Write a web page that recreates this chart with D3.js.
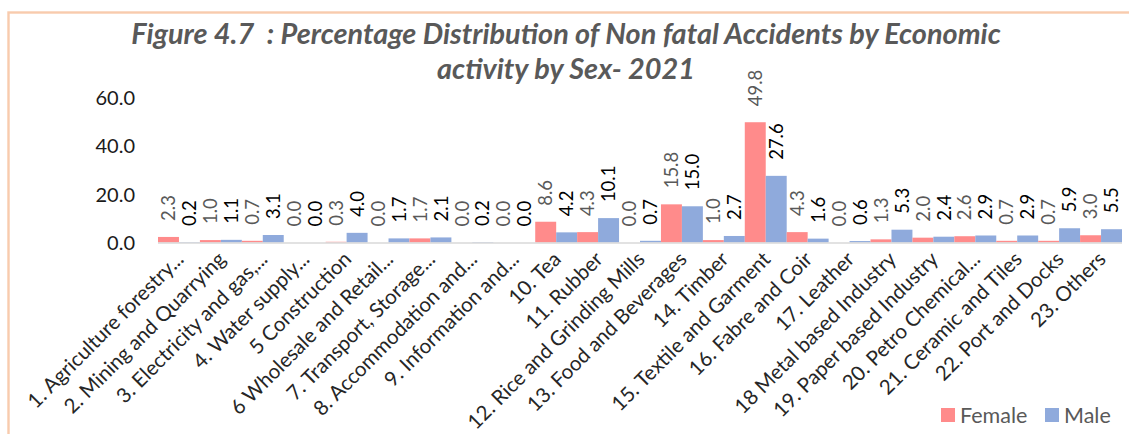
<!DOCTYPE html>
<html>
<head>
<meta charset="utf-8">
<script src="https://cdn.jsdelivr.net/npm/d3@7"></script>
<style>
  html, body { margin: 0; padding: 0; background: #fff; }
  svg { display: block; font-family: Lato, "Open Sans", sans-serif; }
  .title text { white-space: pre; }
</style>
</head>
<body>
<svg id="chart" width="1129" height="434"></svg>
<script>
// Economic activity categories (x axis)
const categories = [
  "1. Agriculture forestry...",
  "2. Mining and Quarrying",
  "3. Electricity and gas,...",
  "4. Water supply...",
  "5 Construction",
  "6 Wholesale and Retail...",
  "7. Transport, Storage...",
  "8. Accommodation and...",
  "9. Information and...",
  "10. Tea",
  "11. Rubber",
  "12. Rice and Grinding Mills",
  "13. Food and Beverages",
  "14. Timber",
  "15. Textile and Garment",
  "16. Fabre and Coir",
  "17. Leather",
  "18 Metal based Industry",
  "19. Paper based Industry",
  "20. Petro Chemical...",
  "21. Ceramic and Tiles",
  "22. Port and Docks",
  "23. Others"
];

// Percentage of non fatal accidents by sex
const female = [2.3, 1.0, 0.7, 0.0, 0.3, 0.0, 1.7, 0.0, 0.0, 8.6, 4.3, 0.0, 15.8, 1.0, 49.8, 4.3, 0.0, 1.3, 2.0, 2.6, 0.7, 0.7, 3.0];
const male   = [0.2, 1.1, 3.1, 0.0, 4.0, 1.7, 2.1, 0.2, 0.0, 4.2, 10.1, 0.7, 15.0, 2.7, 27.6, 1.6, 0.6, 5.3, 2.4, 2.9, 2.9, 5.9, 5.5];

const seriesNames = ["Female", "Male"];
const yTicks = [0, 20, 40, 60];

const titleLines = [
  "Figure 4.7  : Percentage Distribution of Non fatal Accidents by Economic",
  "activity by Sex- 2021"
];

const colors = { Female: "#ff8b8b", Male: "#8faadc" };
const labelColors = { Female: "#595959", Male: "#000000" };

const svg = d3.select("#chart");

// chart frame (runs past the right and bottom edges)
svg.append("rect")
  .attr("x", 8.5).attr("y", 12.5)
  .attr("width", 1160).attr("height", 460)
  .attr("fill", "none")
  .attr("stroke", "#f8cbad")
  .attr("stroke-width", 2.4);

// plot geometry
const plot = { left: 158, right: 1122, zeroY: 242.5, topY: 97.6 };

const x = d3.scaleBand().domain(categories).range([plot.left, plot.right]).padding(0);
const xSub = d3.scaleBand().domain(seriesNames).range([0, x.bandwidth()]).padding(0);
const y = d3.scaleLinear().domain([0, 60]).range([plot.zeroY, plot.topY]);

// title
const titleCx = 566;
const title = svg.append("g")
  .attr("class", "title")
  .attr("font-weight", "bold")
  .attr("font-style", "italic")
  .attr("fill", "#595959")
  .attr("text-anchor", "middle");
const t1 = title.append("text").attr("x", titleCx).attr("y", 43.5).attr("font-size", 24).text(titleLines[0]);
// size the title so the first line spans its intended width
const w1 = t1.node().getComputedTextLength();
const titleSize = 24 * 870 / w1;
t1.attr("font-size", titleSize);
title.append("text").attr("x", titleCx).attr("y", 78.5).attr("font-size", titleSize).text(titleLines[1]);

// y axis labels (no line, no ticks)
const yAxis = d3.axisLeft(y).tickValues(yTicks).tickFormat(d3.format(".1f")).tickSize(0).tickPadding(0);
const yg = svg.append("g").attr("transform", "translate(135,0)").call(yAxis);
yg.select(".domain").remove();
yg.selectAll("text")
  .attr("font-family", "Lato, sans-serif")
  .attr("font-size", 20)
  .attr("fill", "#1a1a1a")
  .attr("dy", "0.35em");

// bars
const rows = categories.map((c, i) => ({ cat: c, Female: female[i], Male: male[i] }));
const groups = svg.append("g").selectAll("g")
  .data(rows).join("g")
  .attr("transform", d => `translate(${x(d.cat)},0)`);

groups.selectAll("rect")
  .data(d => seriesNames.map(s => ({ s, v: d[s] })))
  .join("rect")
  .attr("x", d => xSub(d.s))
  .attr("width", xSub.bandwidth())
  .attr("y", d => y(d.v))
  .attr("height", d => plot.zeroY - y(d.v))
  .attr("fill", d => colors[d.s]);

// baseline
svg.append("line")
  .attr("x1", plot.left).attr("x2", plot.right)
  .attr("y1", plot.zeroY + 0.5).attr("y2", plot.zeroY + 0.5)
  .attr("stroke", "#d9d9d9").attr("stroke-width", 1.5);

// value labels, rotated, above each bar
groups.selectAll("text.val")
  .data(d => seriesNames.map(s => ({ s, v: d[s] })))
  .join("text")
  .attr("class", "val")
  .attr("transform", d => `translate(${xSub(d.s) + xSub.bandwidth() / 2},${y(d.v) - 16}) rotate(-90)`)
  .attr("dy", "0.36em")
  .attr("font-size", 18.5)
  .attr("fill", d => labelColors[d.s])
  .text(d => d3.format(".1f")(d.v));

// category labels at -45 degrees
const xAxis = d3.axisBottom(x).tickSize(0).tickPadding(0);
const xg = svg.append("g").attr("transform", `translate(0,${plot.zeroY})`).call(xAxis);
xg.select(".domain").remove();
xg.selectAll("text")
  .attr("font-family", "Lato, sans-serif")
  .attr("font-size", 20.5)
  .attr("fill", "#262626")
  .attr("text-anchor", "end")
  .attr("dy", null)
  .attr("y", 0)
  .attr("transform", "translate(6,18) rotate(-45)");

// legend
const legendItems = [
  { s: "Female", x: 941 },
  { s: "Male", x: 1045 }
];
const lg = svg.append("g");
lg.selectAll("rect").data(legendItems).join("rect")
  .attr("x", d => d.x).attr("y", 408)
  .attr("width", 14).attr("height", 14)
  .attr("fill", d => colors[d.s]);
lg.selectAll("text").data(legendItems).join("text")
  .attr("x", d => d.x + 19).attr("y", 422.5)
  .attr("font-size", 21.5)
  .attr("fill", "#595959")
  .text(d => d.s);
</script>
</body>
</html>
